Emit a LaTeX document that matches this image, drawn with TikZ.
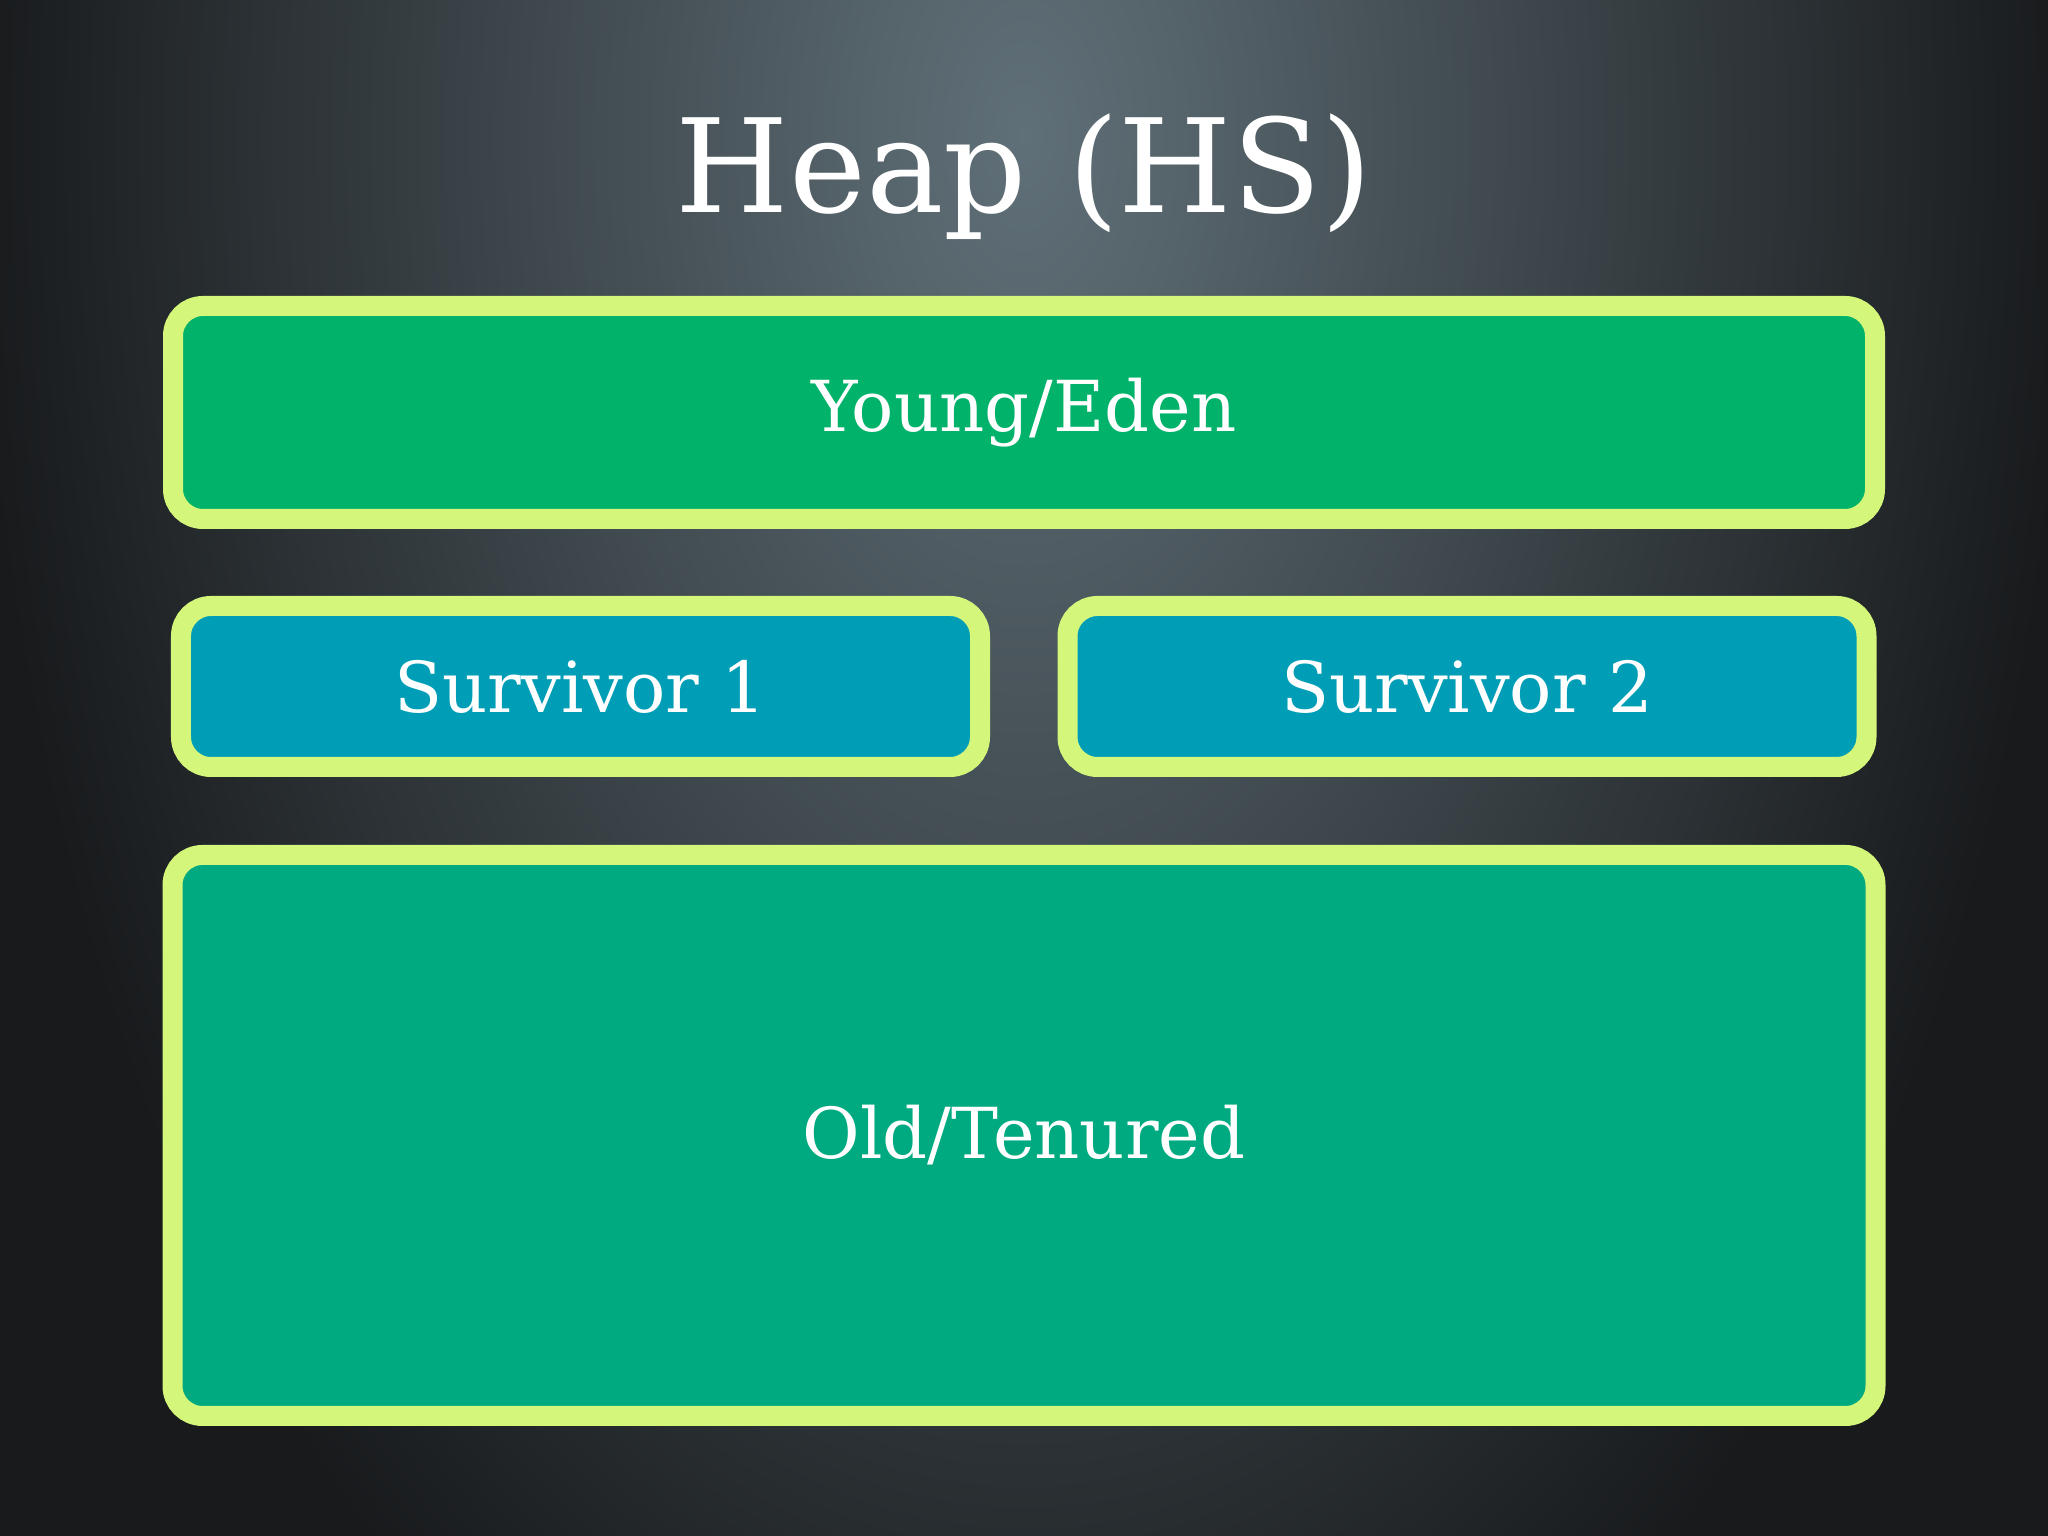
\documentclass[tikz,border=0pt]{standalone}
\usepackage{fontspec}
\setmainfont{DejaVu Serif}
\usetikzlibrary{positioning}
\definecolor{bglight}{RGB}{96,112,120}
\definecolor{bgdark}{RGB}{24,26,28}
\definecolor{edgecol}{RGB}{212,246,122}
\definecolor{youngcol}{RGB}{0,178,106}
\definecolor{survcol}{RGB}{0,158,182}
\definecolor{oldcol}{RGB}{0,170,128}

\begin{document}
\begin{tikzpicture}[node distance=2cm,
  region/.style={draw=edgecol,line width=0.2cm,rounded corners=0.3cm,
    text=white,font=\fontsize{20}{24}\selectfont,inner sep=0pt}]
 \tikzset{youngbox/.style={region,fill=youngcol,minimum width=17.02cm,minimum height=2.13cm},
   survbox/.style={region,fill=survcol,minimum width=7.99cm,minimum height=1.61cm},
   oldbox/.style={region,fill=oldcol,minimum width=17.03cm,minimum height=5.61cm}}

   % background
   \useasboundingbox (0,0) rectangle (20.48,15.36);
   \fill[bgdark] (0,0) rectangle (20.48,15.36);
   \begin{scope}
    \clip (0,0) rectangle (20.48,15.36);
    \shade[inner color=bglight,outer color=bgdark] (10.24,14.0) ellipse (10.5cm and 18cm);
   \end{scope}

   \node[text=white,font=\fontsize{37}{44}\selectfont,anchor=base] (title) at (10.24,13.23) {Heap (HS)};

   \node[youngbox] (young) at (10.24,11.235) {Young/Eden};
   \node[survbox] (surv1) at (5.805,8.495) {Survivor 1};
   \node[survbox] (surv2) [right of=surv1,node distance=8.865cm] {Survivor 2};
   \node[oldbox] (old) [below of=young,node distance=7.23cm] {Old/Tenured};

\end{tikzpicture}
\end{document}
